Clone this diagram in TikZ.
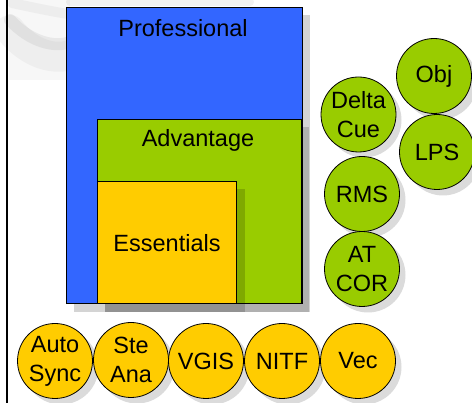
\documentclass[tikz,border=0pt]{standalone}
\usepackage{fontspec}
\setmainfont{Liberation Sans}
\definecolor{profblue}{HTML}{3366FF}
\definecolor{advgreen}{HTML}{99CC00}
\definecolor{essyellow}{HTML}{FFCC00}
\tikzset{
  box/.style={draw=black, line width=0.8pt, anchor=north west, inner sep=0pt, outer sep=0pt},
  shadowbox/.style={fill=black, opacity=0.17},
  lbl/.style={font=\fontsize{23.5}{29}\selectfont, inner sep=0pt},
  bubble/.style={circle, draw=black, line width=0.8pt, minimum size=75pt, inner sep=0pt,
     align=center, font=\fontsize{23.5}{29}\selectfont},
  bshadow/.style={circle, fill=black, opacity=0.14, minimum size=75pt, inner sep=0pt},
  gbub/.style={bubble, fill=advgreen},
  ybub/.style={bubble, fill=essyellow},
  swirl/.style={gray, line cap=round},
}
\begin{document}
\begin{tikzpicture}[x=1pt,y=-1pt]
\useasboundingbox (0,0) rectangle (472,403);
\fill[white] (0,0) rectangle (472,403);
% faint disc background
\fill[gray, opacity=0.06] (9,0) rectangle (70,80);
\draw[swirl, opacity=0.07, line width=30pt] (10,30) .. controls (30,55) and (55,60) .. (70,55);
\draw[swirl, opacity=0.12, line width=12pt] (10,20) .. controls (30,42) and (55,48) .. (70,42);
\draw[swirl, opacity=0.10, line width=8pt] (70,2) -- (250,2);
\draw[swirl, opacity=0.08, line width=10pt] (12,3) .. controls (35,8) and (55,12) .. (68,14);
% left border
\draw[line width=2.5pt] (7,0) -- (7,403);
% Professional
\fill[shadowbox] (74,15) rectangle (310,312);
\node[box, fill=profblue, minimum width=236pt, minimum height=296pt] (prof) at (66,7) {};
\node[lbl] (proflbl) at (183,28) {Professional};
% Advantage
\fill[shadowbox] (105,127) rectangle (309,312);
\node[box, fill=advgreen, minimum width=204pt, minimum height=184pt] (adv) at (97,119) {};
\node[lbl] (advlbl) at (198,140) {Advantage};
% Essentials
\fill[shadowbox] (105,189) rectangle (245,312);
\node[box, fill=essyellow, minimum width=139pt, minimum height=122pt] (ess) at (97,181) {};
\node[lbl] (esslbl) at (167,243) {Essentials};
% green bubbles
\node[bshadow] at (440,82) {};
\node[gbub] (obj) at (434,76) {Obj};
\node[bshadow] at (364,120) {};
\node[gbub] (delta) at (358.5,114.5) {Delta\\Cue};
\node[bshadow] at (443,158) {};
\node[gbub] (lps) at (437,152) {LPS};
\node[bshadow] at (368,200) {};
\node[gbub] (rms) at (362,194) {RMS};
\node[bshadow] at (368,275) {};
\node[gbub] (atcor) at (362,269) {AT\\COR};
% yellow bubbles
\node[bshadow] at (61,367) {};
\node[ybub] (auto) at (55,361) {Auto\\Sync};
\node[bshadow] at (137,366) {};
\node[ybub] (ste) at (131,360) {Ste\\Ana};
\node[bshadow] at (212,367) {};
\node[ybub] (vgis) at (206,361) {VGIS};
\node[bshadow] at (288,367) {};
\node[ybub] (nitf) at (282,361) {NITF};
\node[bshadow] at (364,367) {};
\node[ybub] (vec) at (358,361) {Vec};
\end{tikzpicture}
\end{document}
